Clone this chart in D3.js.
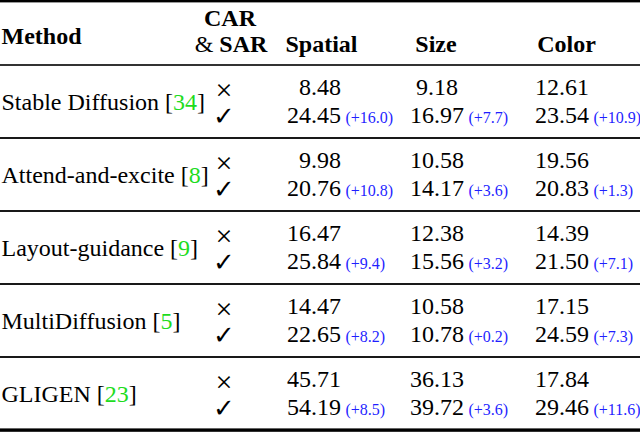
<!DOCTYPE html>
<html>
<head>
<meta charset="utf-8">
<script src="https://cdn.jsdelivr.net/npm/d3@7"></script>
<style>
  html, body { margin: 0; padding: 0; background: #fff; }
  svg { display: block; }
  text { font-family: "Liberation Serif", "Times New Roman", serif; fill: #000; }
</style>
</head>
<body>
<svg id="chart" width="640" height="432"></svg>
<script>
// ---- data ----
const methods = ["Stable Diffusion", "Attend-and-excite", "Layout-guidance", "MultiDiffusion", "GLIGEN"];
const refs = ["34", "8", "9", "5", "23"];
const columns = ["Spatial", "Size", "Color"];
const spatialBase = [8.48, 9.98, 16.47, 14.47, 45.71];
const spatialCar  = [24.45, 20.76, 25.84, 22.65, 54.19];
const spatialGain = [16.0, 10.8, 9.4, 8.2, 8.5];
const sizeBase = [9.18, 10.58, 12.38, 10.58, 36.13];
const sizeCar  = [16.97, 14.17, 15.56, 10.78, 39.72];
const sizeGain = [7.7, 3.6, 3.2, 0.2, 3.6];
const colorBase = [12.61, 19.56, 14.39, 17.15, 17.84];
const colorCar  = [23.54, 20.83, 21.50, 24.59, 29.46];
const colorGain = [10.9, 1.3, 7.1, 7.3, 11.6];

const baseVals = {Spatial: spatialBase, Size: sizeBase, Color: colorBase};
const carVals  = {Spatial: spatialCar,  Size: sizeCar,  Color: colorCar};
const gainVals = {Spatial: spatialGain, Size: sizeGain, Color: colorGain};

// ---- layout ----
const svg = d3.select("#chart");
const W = 640;
const headerBottom = 65, tableBottom = 430;
const y = d3.scaleBand().domain(methods).range([headerBottom, tableBottom]);
const colX = d3.scaleOrdinal(columns, [341, 437, 562]);
const colAnchor = d3.scaleOrdinal(columns, ["end", "middle", "middle"]);
const headX = d3.scaleOrdinal(columns, [321.5, 436, 566.5]);
const markX = 224;
const fmt = d3.format(".2f"), gfmt = d3.format(".1f");
const blue = "#1f1fff", green = "#1edc1e";

// rules
svg.append("rect").attr("x", 0).attr("y", 0).attr("width", W).attr("height", 2.4).attr("fill", "#000");
svg.append("rect").attr("x", 0).attr("y", headerBottom - 0.8).attr("width", W).attr("height", 1.6).attr("fill", "#000");
methods.slice(1).forEach(m => {
  svg.append("rect").attr("x", 0).attr("y", y(m) - 0.9).attr("width", W).attr("height", 1.8).attr("fill", "#000");
});
svg.append("rect").attr("x", 0).attr("y", tableBottom - 1.6).attr("width", W).attr("height", 3.4).attr("fill", "#000");

// header
svg.append("text").attr("x", 1.5).attr("y", 43.5).attr("font-size", 24).attr("font-weight", "bold").text("Method");
svg.append("text").attr("x", 230).attr("y", 26).attr("text-anchor", "middle").attr("font-size", 24).attr("font-weight", "bold").text("CAR");
const t2 = svg.append("text").attr("x", 231).attr("y", 51.5).attr("text-anchor", "middle").attr("font-size", 24);
t2.append("tspan").text("& ");
t2.append("tspan").attr("font-weight", "bold").text("SAR");
svg.selectAll("text.head").data(columns).join("text")
  .attr("class", "head")
  .attr("x", d => headX(d)).attr("y", 51.5)
  .attr("text-anchor", "middle").attr("font-size", 24).attr("font-weight", "bold")
  .text(d => d);

// rows
methods.forEach((m, i) => {
  const c = y(m) + y.bandwidth() / 2;
  const g = svg.append("g");
  const name = g.append("text").attr("x", 1.5).attr("y", c + 8.5).attr("font-size", 24);
  name.append("tspan").text(m + " [");
  name.append("tspan").attr("fill", green).style("fill", green).text(refs[i]);
  name.append("tspan").text("]");

  const b1 = c - 6.5, b2 = c + 21;
  g.append("text").attr("x", markX).attr("y", b1 + 4.5).attr("text-anchor", "middle").attr("font-size", 30)
    .style("font-weight", 300).text("\u00D7");
  g.append("text").attr("x", markX).attr("y", b2 + 2.5).attr("text-anchor", "middle").attr("font-size", 26)
    .style("font-family", "'DejaVu Sans', sans-serif").text("\u2713");

  columns.forEach(col => {
    g.append("text").attr("x", colX(col)).attr("y", b1).attr("text-anchor", colAnchor(col))
      .attr("font-size", 24).text(fmt(baseVals[col][i]));
    const t = g.append("text").attr("x", colX(col)).attr("y", b2).attr("text-anchor", colAnchor(col))
      .attr("font-size", 24).text(fmt(carVals[col][i]));
    const bb = t.node().getBBox();
    g.append("text").attr("x", bb.x + bb.width + 4.5).attr("y", b2)
      .attr("font-size", 16).style("fill", blue)
      .text("(+" + gfmt(gainVals[col][i]) + ")");
  });
});
</script>
</body>
</html>
